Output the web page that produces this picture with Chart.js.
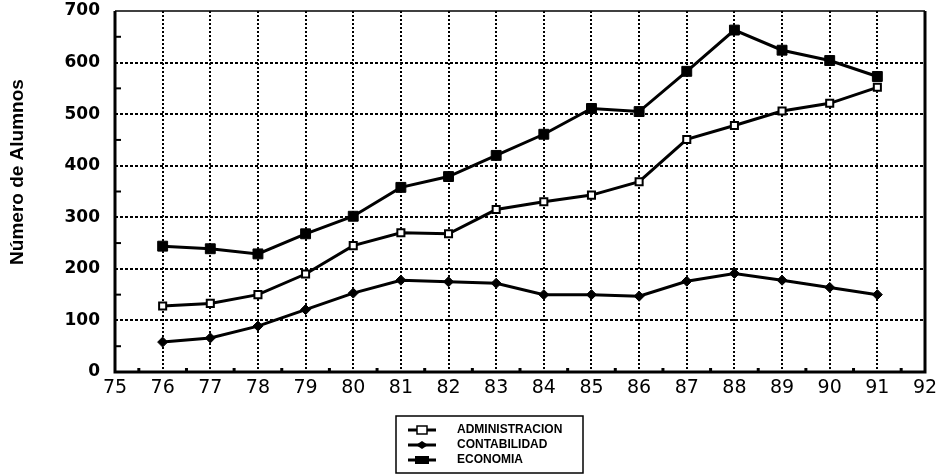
<!DOCTYPE html>
<html>
<head>
<meta charset="utf-8">
<script src="https://cdn.jsdelivr.net/npm/chart.js@4/dist/chart.umd.min.js"></script>
<style>
  html, body { margin: 0; padding: 0; background: #fff; }
  #wrap { width: 947px; height: 476px; }
</style>
</head>
<body>
<div id="wrap"><canvas id="alumnos" width="947" height="476"></canvas></div>
<script>
// años académicos (eje x) y matrícula por carrera
const years = [76, 77, 78, 79, 80, 81, 82, 83, 84, 85, 86, 87, 88, 89, 90, 91];
const administracion = [128, 133, 150, 190, 245, 270, 268, 315, 330, 343, 369, 451, 478, 506, 521, 552];
const contabilidad = [58, 66, 89, 121, 153, 178, 175, 172, 150, 150, 147, 176, 191, 178, 164, 150];
const economia = [244, 239, 229, 268, 302, 358, 379, 420, 461, 511, 505, 583, 663, 624, 604, 573];
const yTicks = [0, 100, 200, 300, 400, 500, 600, 700];
const yTitle = "Número de Alumnos";

const toXY = vals => vals.map((v, i) => ({ x: years[i], y: v }));

// marco, marcas menores, título del eje y y leyenda en recuadro
const framePlugin = {
  id: "frame",
  afterDraw(chart) {
    const { ctx, chartArea: a, scales } = chart;
    ctx.save();
    ctx.strokeStyle = "#000";
    ctx.fillStyle = "#000";
    ctx.setLineDash([]);
    ctx.lineWidth = 1.5;
    ctx.beginPath(); ctx.moveTo(a.left, a.top); ctx.lineTo(a.right, a.top); ctx.stroke();
    ctx.lineWidth = 3;
    ctx.beginPath();
    ctx.moveTo(a.left, a.top); ctx.lineTo(a.left, a.bottom); ctx.lineTo(a.right, a.bottom); ctx.lineTo(a.right, a.top);
    ctx.stroke();

    // marcas menores
    ctx.lineWidth = 2;
    for (let v = 50; v < 700; v += 100) {
      const y = scales.y.getPixelForValue(v);
      ctx.beginPath(); ctx.moveTo(a.left, y); ctx.lineTo(a.left + 6, y); ctx.stroke();
    }
    for (let v = 75.5; v < 92; v += 1) {
      const x = scales.x.getPixelForValue(v);
      ctx.fillRect(x - 1.5, a.bottom - 4, 3, 3);
    }

    // título vertical
    ctx.save();
    ctx.translate(18, 172);
    ctx.rotate(-Math.PI / 2);
    ctx.font = "bold 19px 'Liberation Sans', Arial, sans-serif";
    ctx.textAlign = "center";
    ctx.textBaseline = "middle";
    ctx.fillText(yTitle, 0, 0);
    ctx.restore();

    // leyenda
    const bx = 396, by = 416, bw = 187, bh = 57;
    ctx.lineWidth = 1.5;
    ctx.strokeRect(bx, by, bw, bh);
    ctx.font = "bold 12px 'Liberation Sans', Arial, sans-serif";
    ctx.textBaseline = "middle";
    chart.data.datasets.forEach((ds, i) => {
      const y = by + 14 + i * 15;
      ctx.lineWidth = 3;
      ctx.beginPath(); ctx.moveTo(bx + 12, y); ctx.lineTo(bx + 40, y); ctx.stroke();
      const cx = bx + 26;
      ctx.lineWidth = 1.5;
      if (ds.pointStyle === "rectRot") {
        ctx.beginPath();
        ctx.moveTo(cx, y - 4); ctx.lineTo(cx + 6, y); ctx.lineTo(cx, y + 4); ctx.lineTo(cx - 6, y);
        ctx.closePath(); ctx.fill();
      } else if (ds.pointBackgroundColor === "#fff") {
        ctx.fillStyle = "#fff";
        ctx.fillRect(cx - 5, y - 4, 10, 8);
        ctx.strokeRect(cx - 5, y - 4, 10, 8);
        ctx.fillStyle = "#000";
      } else {
        ctx.fillRect(cx - 7, y - 4, 14, 8);
      }
      ctx.fillText(ds.label, bx + 61, y);
    });
    ctx.restore();
  }
};

new Chart(document.getElementById("alumnos"), {
  type: "line",
  data: {
    datasets: [
      { label: "ADMINISTRACION", data: toXY(administracion), pointStyle: "rect", pointRadius: 5,
        pointBackgroundColor: "#fff", pointBorderWidth: 2 },
      { label: "CONTABILIDAD", data: toXY(contabilidad), pointStyle: "rectRot", pointRadius: 5,
        pointBackgroundColor: "#000", pointBorderWidth: 1 },
      { label: "ECONOMIA", data: toXY(economia), pointStyle: "rect", pointRadius: 7,
        pointBackgroundColor: "#000", pointBorderWidth: 1 }
    ].map(ds => Object.assign({ borderColor: "#000", borderWidth: 3, pointBorderColor: "#000", tension: 0 }, ds))
  },
  options: {
    responsive: false,
    animation: false,
    layout: { padding: { left: 0, right: 22, top: 11, bottom: 0 } },
    plugins: { legend: { display: false }, tooltip: { enabled: false } },
    scales: {
      x: {
        type: "linear", min: 75, max: 92,
        afterBuildTicks: s => { s.ticks = []; for (let v = 75; v <= 92; v++) s.ticks.push({ value: v }); },
        afterFit: s => { s.height = 104; s.paddingLeft = 0; s.paddingRight = 0; },
        border: { display: false, dash: [2, 2] },
        grid: {
          drawTicks: false, lineWidth: 2,
          color: c => (c.tick && (c.tick.value === 75 || c.tick.value === 92)) ? "rgba(0,0,0,0)" : "#000"
        },
        ticks: { padding: 5, color: "#000", font: { family: "'DejaVu Sans', sans-serif", size: 19 } }
      },
      y: {
        min: 0, max: 700,
        afterBuildTicks: s => { s.ticks = yTicks.map(v => ({ value: v })); },
        afterFit: s => { s.width = 115; s.paddingTop = 0; s.paddingBottom = 0; },
        border: { display: false, dash: [3, 2] },
        grid: {
          drawTicks: false, lineWidth: 2,
          color: c => (c.tick && (c.tick.value === 0 || c.tick.value === 700)) ? "rgba(0,0,0,0)" : "#000"
        },
        ticks: { padding: 15, color: "#000", font: { family: "'DejaVu Sans', sans-serif", size: 17, weight: "bold" } }
      }
    }
  },
  plugins: [framePlugin]
});
</script>
</body>
</html>
